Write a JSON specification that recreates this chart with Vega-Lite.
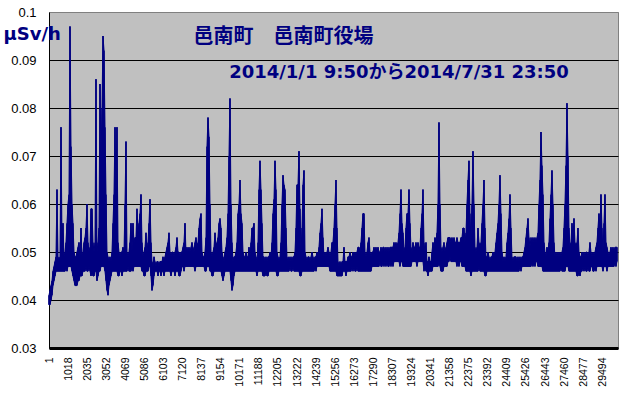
{
"$schema": "https://vega.github.io/schema/vega-lite/v6.json",
"width": 569, "height": 336,
"autosize": {"type": "none"},
"padding": {"left": 49, "top": 12, "right": 9, "bottom": 48},
"background": "white",
"config": {"view": {"fill": "#c0c0c0", "stroke": "#808080", "strokeWidth": 1}},
"data": {"values": [
{"i":1,"lo":0.039,"hi":0.041},{"i":54,"lo":0.039,"hi":0.042},{"i":108,"lo":0.040,"hi":0.043},{"i":161,"lo":0.041,"hi":0.044},{"i":214,"lo":0.043,"hi":0.046},{"i":268,"lo":0.044,"hi":0.047},{"i":321,"lo":0.045,"hi":0.048},{"i":374,"lo":0.046,"hi":0.049},{"i":427,"lo":0.046,"hi":0.063},{"i":481,"lo":0.046,"hi":0.049},
{"i":534,"lo":0.046,"hi":0.048},{"i":587,"lo":0.046,"hi":0.049},{"i":641,"lo":0.046,"hi":0.076},{"i":694,"lo":0.046,"hi":0.052},{"i":747,"lo":0.046,"hi":0.056},{"i":801,"lo":0.046,"hi":0.049},{"i":854,"lo":0.046,"hi":0.050},{"i":907,"lo":0.047,"hi":0.052},{"i":960,"lo":0.046,"hi":0.056},{"i":1014,"lo":0.047,"hi":0.060},
{"i":1067,"lo":0.047,"hi":0.062},{"i":1120,"lo":0.047,"hi":0.097},{"i":1174,"lo":0.047,"hi":0.072},{"i":1227,"lo":0.046,"hi":0.060},{"i":1280,"lo":0.045,"hi":0.056},{"i":1334,"lo":0.044,"hi":0.050},{"i":1387,"lo":0.043,"hi":0.049},{"i":1440,"lo":0.043,"hi":0.049},{"i":1493,"lo":0.043,"hi":0.050},{"i":1547,"lo":0.044,"hi":0.051},
{"i":1600,"lo":0.044,"hi":0.052},{"i":1653,"lo":0.045,"hi":0.049},{"i":1707,"lo":0.045,"hi":0.055},{"i":1760,"lo":0.045,"hi":0.049},{"i":1813,"lo":0.046,"hi":0.050},{"i":1867,"lo":0.046,"hi":0.052},{"i":1920,"lo":0.046,"hi":0.053},{"i":1973,"lo":0.047,"hi":0.055},{"i":2026,"lo":0.046,"hi":0.060},{"i":2080,"lo":0.046,"hi":0.052},
{"i":2133,"lo":0.047,"hi":0.050},{"i":2186,"lo":0.046,"hi":0.051},{"i":2240,"lo":0.045,"hi":0.059},{"i":2293,"lo":0.046,"hi":0.059},{"i":2346,"lo":0.045,"hi":0.052},{"i":2400,"lo":0.045,"hi":0.050},{"i":2453,"lo":0.046,"hi":0.052},{"i":2506,"lo":0.046,"hi":0.086},{"i":2559,"lo":0.044,"hi":0.050},{"i":2613,"lo":0.045,"hi":0.052},
{"i":2666,"lo":0.046,"hi":0.055},{"i":2719,"lo":0.046,"hi":0.085},{"i":2773,"lo":0.047,"hi":0.070},{"i":2826,"lo":0.047,"hi":0.080},{"i":2879,"lo":0.047,"hi":0.095},{"i":2933,"lo":0.047,"hi":0.092},{"i":2986,"lo":0.046,"hi":0.076},{"i":3039,"lo":0.044,"hi":0.062},{"i":3092,"lo":0.042,"hi":0.050},{"i":3146,"lo":0.041,"hi":0.049},
{"i":3199,"lo":0.043,"hi":0.048},{"i":3252,"lo":0.044,"hi":0.049},{"i":3306,"lo":0.045,"hi":0.048},{"i":3359,"lo":0.046,"hi":0.050},{"i":3412,"lo":0.046,"hi":0.056},{"i":3466,"lo":0.046,"hi":0.062},{"i":3519,"lo":0.046,"hi":0.076},{"i":3572,"lo":0.046,"hi":0.062},{"i":3625,"lo":0.046,"hi":0.076},{"i":3679,"lo":0.045,"hi":0.052},
{"i":3732,"lo":0.045,"hi":0.050},{"i":3785,"lo":0.046,"hi":0.049},{"i":3839,"lo":0.046,"hi":0.050},{"i":3892,"lo":0.045,"hi":0.050},{"i":3945,"lo":0.046,"hi":0.051},{"i":3999,"lo":0.046,"hi":0.050},{"i":4052,"lo":0.046,"hi":0.060},{"i":4105,"lo":0.046,"hi":0.073},{"i":4158,"lo":0.046,"hi":0.050},{"i":4212,"lo":0.047,"hi":0.049},
{"i":4265,"lo":0.046,"hi":0.050},{"i":4318,"lo":0.046,"hi":0.052},{"i":4372,"lo":0.046,"hi":0.056},{"i":4425,"lo":0.047,"hi":0.050},{"i":4478,"lo":0.046,"hi":0.056},{"i":4532,"lo":0.047,"hi":0.052},{"i":4585,"lo":0.047,"hi":0.053},{"i":4638,"lo":0.047,"hi":0.053},{"i":4691,"lo":0.047,"hi":0.059},{"i":4745,"lo":0.047,"hi":0.054},
{"i":4798,"lo":0.047,"hi":0.056},{"i":4851,"lo":0.047,"hi":0.058},{"i":4905,"lo":0.047,"hi":0.062},{"i":4958,"lo":0.046,"hi":0.052},{"i":5011,"lo":0.046,"hi":0.049},{"i":5065,"lo":0.045,"hi":0.050},{"i":5118,"lo":0.045,"hi":0.051},{"i":5171,"lo":0.046,"hi":0.054},{"i":5224,"lo":0.046,"hi":0.050},{"i":5278,"lo":0.046,"hi":0.052},
{"i":5331,"lo":0.047,"hi":0.056},{"i":5384,"lo":0.047,"hi":0.061},{"i":5438,"lo":0.045,"hi":0.052},{"i":5491,"lo":0.042,"hi":0.048},{"i":5544,"lo":0.043,"hi":0.047},{"i":5598,"lo":0.045,"hi":0.049},{"i":5651,"lo":0.046,"hi":0.048},{"i":5704,"lo":0.046,"hi":0.047},{"i":5757,"lo":0.046,"hi":0.048},{"i":5811,"lo":0.045,"hi":0.048},
{"i":5864,"lo":0.046,"hi":0.047},{"i":5917,"lo":0.046,"hi":0.048},{"i":5971,"lo":0.045,"hi":0.048},{"i":6024,"lo":0.046,"hi":0.048},{"i":6077,"lo":0.046,"hi":0.049},{"i":6131,"lo":0.045,"hi":0.048},{"i":6184,"lo":0.046,"hi":0.049},{"i":6237,"lo":0.046,"hi":0.050},{"i":6290,"lo":0.046,"hi":0.051},{"i":6344,"lo":0.046,"hi":0.052},
{"i":6397,"lo":0.046,"hi":0.054},{"i":6450,"lo":0.046,"hi":0.050},{"i":6504,"lo":0.045,"hi":0.049},{"i":6557,"lo":0.046,"hi":0.050},{"i":6610,"lo":0.046,"hi":0.050},{"i":6664,"lo":0.046,"hi":0.049},{"i":6717,"lo":0.045,"hi":0.050},{"i":6770,"lo":0.046,"hi":0.051},{"i":6823,"lo":0.046,"hi":0.053},{"i":6877,"lo":0.046,"hi":0.050},
{"i":6930,"lo":0.045,"hi":0.050},{"i":6983,"lo":0.045,"hi":0.049},{"i":7037,"lo":0.046,"hi":0.050},{"i":7090,"lo":0.047,"hi":0.050},{"i":7143,"lo":0.047,"hi":0.051},{"i":7197,"lo":0.046,"hi":0.052},{"i":7250,"lo":0.047,"hi":0.056},{"i":7303,"lo":0.047,"hi":0.050},{"i":7356,"lo":0.047,"hi":0.051},{"i":7410,"lo":0.047,"hi":0.050},
{"i":7463,"lo":0.047,"hi":0.051},{"i":7516,"lo":0.047,"hi":0.050},{"i":7570,"lo":0.047,"hi":0.051},{"i":7623,"lo":0.047,"hi":0.052},{"i":7676,"lo":0.047,"hi":0.051},{"i":7730,"lo":0.047,"hi":0.050},{"i":7783,"lo":0.046,"hi":0.052},{"i":7836,"lo":0.047,"hi":0.053},{"i":7889,"lo":0.047,"hi":0.051},{"i":7943,"lo":0.047,"hi":0.052},
{"i":7996,"lo":0.047,"hi":0.055},{"i":8049,"lo":0.047,"hi":0.057},{"i":8103,"lo":0.047,"hi":0.058},{"i":8156,"lo":0.047,"hi":0.050},{"i":8209,"lo":0.047,"hi":0.049},{"i":8263,"lo":0.047,"hi":0.049},{"i":8316,"lo":0.046,"hi":0.050},{"i":8369,"lo":0.046,"hi":0.053},{"i":8422,"lo":0.047,"hi":0.072},{"i":8476,"lo":0.047,"hi":0.078},
{"i":8529,"lo":0.047,"hi":0.074},{"i":8582,"lo":0.046,"hi":0.060},{"i":8636,"lo":0.046,"hi":0.050},{"i":8689,"lo":0.045,"hi":0.049},{"i":8742,"lo":0.045,"hi":0.050},{"i":8796,"lo":0.046,"hi":0.051},{"i":8849,"lo":0.046,"hi":0.054},{"i":8902,"lo":0.046,"hi":0.051},{"i":8955,"lo":0.046,"hi":0.052},{"i":9009,"lo":0.046,"hi":0.053},
{"i":9062,"lo":0.046,"hi":0.056},{"i":9115,"lo":0.046,"hi":0.057},{"i":9169,"lo":0.046,"hi":0.055},{"i":9222,"lo":0.045,"hi":0.050},{"i":9275,"lo":0.044,"hi":0.049},{"i":9329,"lo":0.045,"hi":0.048},{"i":9382,"lo":0.046,"hi":0.050},{"i":9435,"lo":0.046,"hi":0.051},{"i":9488,"lo":0.046,"hi":0.053},{"i":9542,"lo":0.046,"hi":0.058},
{"i":9595,"lo":0.046,"hi":0.070},{"i":9648,"lo":0.046,"hi":0.082},{"i":9702,"lo":0.044,"hi":0.060},{"i":9755,"lo":0.042,"hi":0.052},{"i":9808,"lo":0.043,"hi":0.048},{"i":9862,"lo":0.045,"hi":0.049},{"i":9915,"lo":0.046,"hi":0.049},{"i":9968,"lo":0.046,"hi":0.050},{"i":10021,"lo":0.046,"hi":0.052},{"i":10075,"lo":0.046,"hi":0.058},
{"i":10128,"lo":0.046,"hi":0.060},{"i":10181,"lo":0.046,"hi":0.065},{"i":10235,"lo":0.046,"hi":0.058},{"i":10288,"lo":0.046,"hi":0.056},{"i":10341,"lo":0.046,"hi":0.050},{"i":10395,"lo":0.046,"hi":0.049},{"i":10448,"lo":0.046,"hi":0.049},{"i":10501,"lo":0.046,"hi":0.050},{"i":10554,"lo":0.046,"hi":0.049},{"i":10608,"lo":0.046,"hi":0.049},
{"i":10661,"lo":0.046,"hi":0.051},{"i":10714,"lo":0.046,"hi":0.049},{"i":10768,"lo":0.046,"hi":0.052},{"i":10821,"lo":0.046,"hi":0.055},{"i":10874,"lo":0.046,"hi":0.055},{"i":10928,"lo":0.046,"hi":0.056},{"i":10981,"lo":0.046,"hi":0.050},{"i":11034,"lo":0.046,"hi":0.049},{"i":11087,"lo":0.045,"hi":0.048},{"i":11141,"lo":0.046,"hi":0.052},
{"i":11194,"lo":0.046,"hi":0.063},{"i":11247,"lo":0.046,"hi":0.069},{"i":11301,"lo":0.046,"hi":0.063},{"i":11354,"lo":0.046,"hi":0.056},{"i":11407,"lo":0.045,"hi":0.049},{"i":11461,"lo":0.045,"hi":0.049},{"i":11514,"lo":0.045,"hi":0.048},{"i":11567,"lo":0.046,"hi":0.049},{"i":11620,"lo":0.045,"hi":0.048},{"i":11674,"lo":0.045,"hi":0.049},
{"i":11727,"lo":0.046,"hi":0.049},{"i":11780,"lo":0.046,"hi":0.050},{"i":11834,"lo":0.046,"hi":0.049},{"i":11887,"lo":0.046,"hi":0.052},{"i":11940,"lo":0.046,"hi":0.058},{"i":11994,"lo":0.046,"hi":0.061},{"i":12047,"lo":0.046,"hi":0.069},{"i":12100,"lo":0.046,"hi":0.063},{"i":12153,"lo":0.045,"hi":0.050},{"i":12207,"lo":0.045,"hi":0.049},
{"i":12260,"lo":0.046,"hi":0.048},{"i":12313,"lo":0.046,"hi":0.049},{"i":12367,"lo":0.046,"hi":0.052},{"i":12420,"lo":0.046,"hi":0.060},{"i":12473,"lo":0.046,"hi":0.066},{"i":12527,"lo":0.046,"hi":0.064},{"i":12580,"lo":0.046,"hi":0.063},{"i":12633,"lo":0.046,"hi":0.055},{"i":12686,"lo":0.046,"hi":0.049},{"i":12740,"lo":0.046,"hi":0.048},
{"i":12793,"lo":0.046,"hi":0.049},{"i":12846,"lo":0.047,"hi":0.048},{"i":12900,"lo":0.046,"hi":0.049},{"i":12953,"lo":0.046,"hi":0.048},{"i":13006,"lo":0.047,"hi":0.049},{"i":13060,"lo":0.046,"hi":0.049},{"i":13113,"lo":0.046,"hi":0.050},{"i":13166,"lo":0.046,"hi":0.055},{"i":13219,"lo":0.046,"hi":0.064},{"i":13273,"lo":0.046,"hi":0.064},
{"i":13326,"lo":0.046,"hi":0.071},{"i":13379,"lo":0.045,"hi":0.059},{"i":13433,"lo":0.045,"hi":0.050},{"i":13486,"lo":0.046,"hi":0.055},{"i":13539,"lo":0.046,"hi":0.064},{"i":13593,"lo":0.046,"hi":0.067},{"i":13646,"lo":0.046,"hi":0.050},{"i":13699,"lo":0.046,"hi":0.049},{"i":13752,"lo":0.046,"hi":0.048},{"i":13806,"lo":0.046,"hi":0.049},
{"i":13859,"lo":0.046,"hi":0.049},{"i":13912,"lo":0.046,"hi":0.048},{"i":13966,"lo":0.046,"hi":0.049},{"i":14019,"lo":0.046,"hi":0.050},{"i":14072,"lo":0.046,"hi":0.049},{"i":14126,"lo":0.046,"hi":0.048},{"i":14179,"lo":0.047,"hi":0.049},{"i":14232,"lo":0.046,"hi":0.049},{"i":14285,"lo":0.047,"hi":0.050},{"i":14339,"lo":0.047,"hi":0.049},
{"i":14392,"lo":0.047,"hi":0.051},{"i":14445,"lo":0.047,"hi":0.054},{"i":14499,"lo":0.047,"hi":0.056},{"i":14552,"lo":0.047,"hi":0.059},{"i":14605,"lo":0.047,"hi":0.053},{"i":14659,"lo":0.047,"hi":0.049},{"i":14712,"lo":0.047,"hi":0.050},{"i":14765,"lo":0.047,"hi":0.049},{"i":14818,"lo":0.047,"hi":0.050},{"i":14872,"lo":0.047,"hi":0.051},
{"i":14925,"lo":0.047,"hi":0.050},{"i":14978,"lo":0.046,"hi":0.049},{"i":15032,"lo":0.046,"hi":0.050},{"i":15085,"lo":0.046,"hi":0.052},{"i":15138,"lo":0.046,"hi":0.052},{"i":15192,"lo":0.046,"hi":0.055},{"i":15245,"lo":0.046,"hi":0.060},{"i":15298,"lo":0.046,"hi":0.065},{"i":15351,"lo":0.045,"hi":0.055},{"i":15405,"lo":0.045,"hi":0.048},
{"i":15458,"lo":0.045,"hi":0.047},{"i":15511,"lo":0.045,"hi":0.048},{"i":15565,"lo":0.045,"hi":0.047},{"i":15618,"lo":0.045,"hi":0.048},{"i":15671,"lo":0.046,"hi":0.048},{"i":15725,"lo":0.046,"hi":0.051},{"i":15778,"lo":0.046,"hi":0.048},{"i":15831,"lo":0.045,"hi":0.048},{"i":15884,"lo":0.046,"hi":0.048},{"i":15938,"lo":0.046,"hi":0.049},
{"i":15991,"lo":0.046,"hi":0.049},{"i":16044,"lo":0.046,"hi":0.050},{"i":16098,"lo":0.046,"hi":0.049},{"i":16151,"lo":0.047,"hi":0.049},{"i":16204,"lo":0.046,"hi":0.050},{"i":16258,"lo":0.047,"hi":0.049},{"i":16311,"lo":0.046,"hi":0.050},{"i":16364,"lo":0.046,"hi":0.049},{"i":16417,"lo":0.047,"hi":0.050},{"i":16471,"lo":0.046,"hi":0.051},
{"i":16524,"lo":0.046,"hi":0.051},{"i":16577,"lo":0.046,"hi":0.050},{"i":16631,"lo":0.046,"hi":0.052},{"i":16684,"lo":0.046,"hi":0.055},{"i":16737,"lo":0.046,"hi":0.058},{"i":16791,"lo":0.046,"hi":0.058},{"i":16844,"lo":0.046,"hi":0.050},{"i":16897,"lo":0.046,"hi":0.049},{"i":16950,"lo":0.046,"hi":0.050},{"i":17004,"lo":0.046,"hi":0.052},
{"i":17057,"lo":0.046,"hi":0.053},{"i":17110,"lo":0.046,"hi":0.050},{"i":17164,"lo":0.046,"hi":0.049},{"i":17217,"lo":0.047,"hi":0.050},{"i":17270,"lo":0.047,"hi":0.050},{"i":17324,"lo":0.047,"hi":0.051},{"i":17377,"lo":0.047,"hi":0.050},{"i":17430,"lo":0.047,"hi":0.051},{"i":17483,"lo":0.047,"hi":0.050},{"i":17537,"lo":0.047,"hi":0.051},
{"i":17590,"lo":0.047,"hi":0.050},{"i":17643,"lo":0.048,"hi":0.050},{"i":17697,"lo":0.047,"hi":0.051},{"i":17750,"lo":0.047,"hi":0.050},{"i":17803,"lo":0.048,"hi":0.051},{"i":17857,"lo":0.047,"hi":0.051},{"i":17910,"lo":0.048,"hi":0.050},{"i":17963,"lo":0.047,"hi":0.051},{"i":18016,"lo":0.048,"hi":0.050},{"i":18070,"lo":0.047,"hi":0.051},
{"i":18123,"lo":0.047,"hi":0.050},{"i":18176,"lo":0.048,"hi":0.051},{"i":18230,"lo":0.047,"hi":0.051},{"i":18283,"lo":0.048,"hi":0.051},{"i":18336,"lo":0.047,"hi":0.051},{"i":18390,"lo":0.048,"hi":0.052},{"i":18443,"lo":0.048,"hi":0.051},{"i":18496,"lo":0.048,"hi":0.052},{"i":18549,"lo":0.048,"hi":0.051},{"i":18603,"lo":0.048,"hi":0.052},
{"i":18656,"lo":0.048,"hi":0.054},{"i":18709,"lo":0.047,"hi":0.058},{"i":18763,"lo":0.048,"hi":0.063},{"i":18816,"lo":0.048,"hi":0.056},{"i":18869,"lo":0.047,"hi":0.054},{"i":18923,"lo":0.047,"hi":0.050},{"i":18976,"lo":0.047,"hi":0.051},{"i":19029,"lo":0.047,"hi":0.055},{"i":19082,"lo":0.047,"hi":0.058},{"i":19136,"lo":0.047,"hi":0.058},
{"i":19189,"lo":0.047,"hi":0.063},{"i":19242,"lo":0.047,"hi":0.056},{"i":19296,"lo":0.047,"hi":0.051},{"i":19349,"lo":0.048,"hi":0.050},{"i":19402,"lo":0.048,"hi":0.052},{"i":19456,"lo":0.048,"hi":0.051},{"i":19509,"lo":0.048,"hi":0.051},{"i":19562,"lo":0.048,"hi":0.052},{"i":19615,"lo":0.047,"hi":0.051},{"i":19669,"lo":0.048,"hi":0.052},
{"i":19722,"lo":0.048,"hi":0.051},{"i":19775,"lo":0.048,"hi":0.051},{"i":19829,"lo":0.048,"hi":0.055},{"i":19882,"lo":0.048,"hi":0.058},{"i":19935,"lo":0.048,"hi":0.063},{"i":19989,"lo":0.046,"hi":0.052},{"i":20042,"lo":0.047,"hi":0.050},{"i":20095,"lo":0.046,"hi":0.052},{"i":20148,"lo":0.046,"hi":0.048},{"i":20202,"lo":0.045,"hi":0.048},
{"i":20255,"lo":0.046,"hi":0.049},{"i":20308,"lo":0.046,"hi":0.048},{"i":20362,"lo":0.046,"hi":0.048},{"i":20415,"lo":0.046,"hi":0.050},{"i":20468,"lo":0.047,"hi":0.052},{"i":20522,"lo":0.047,"hi":0.051},{"i":20575,"lo":0.047,"hi":0.053},{"i":20628,"lo":0.047,"hi":0.052},{"i":20681,"lo":0.047,"hi":0.054},{"i":20735,"lo":0.047,"hi":0.060},
{"i":20788,"lo":0.048,"hi":0.077},{"i":20841,"lo":0.047,"hi":0.060},{"i":20895,"lo":0.046,"hi":0.051},{"i":20948,"lo":0.046,"hi":0.050},{"i":21001,"lo":0.046,"hi":0.051},{"i":21055,"lo":0.047,"hi":0.052},{"i":21108,"lo":0.047,"hi":0.050},{"i":21161,"lo":0.047,"hi":0.051},{"i":21214,"lo":0.047,"hi":0.052},{"i":21268,"lo":0.048,"hi":0.053},
{"i":21321,"lo":0.048,"hi":0.053},{"i":21374,"lo":0.049,"hi":0.053},{"i":21428,"lo":0.048,"hi":0.052},{"i":21481,"lo":0.048,"hi":0.053},{"i":21534,"lo":0.048,"hi":0.052},{"i":21588,"lo":0.048,"hi":0.053},{"i":21641,"lo":0.048,"hi":0.052},{"i":21694,"lo":0.048,"hi":0.052},{"i":21747,"lo":0.047,"hi":0.053},{"i":21801,"lo":0.048,"hi":0.052},
{"i":21854,"lo":0.047,"hi":0.052},{"i":21907,"lo":0.048,"hi":0.052},{"i":21961,"lo":0.048,"hi":0.053},{"i":22014,"lo":0.047,"hi":0.053},{"i":22067,"lo":0.047,"hi":0.055},{"i":22121,"lo":0.047,"hi":0.055},{"i":22174,"lo":0.047,"hi":0.052},{"i":22227,"lo":0.046,"hi":0.054},{"i":22280,"lo":0.046,"hi":0.060},{"i":22334,"lo":0.046,"hi":0.065},
{"i":22387,"lo":0.046,"hi":0.069},{"i":22440,"lo":0.046,"hi":0.058},{"i":22494,"lo":0.045,"hi":0.052},{"i":22547,"lo":0.046,"hi":0.060},{"i":22600,"lo":0.046,"hi":0.071},{"i":22654,"lo":0.046,"hi":0.060},{"i":22707,"lo":0.046,"hi":0.051},{"i":22760,"lo":0.046,"hi":0.050},{"i":22813,"lo":0.046,"hi":0.051},{"i":22867,"lo":0.046,"hi":0.055},
{"i":22920,"lo":0.047,"hi":0.052},{"i":22973,"lo":0.046,"hi":0.051},{"i":23027,"lo":0.046,"hi":0.052},{"i":23080,"lo":0.046,"hi":0.056},{"i":23133,"lo":0.046,"hi":0.060},{"i":23187,"lo":0.046,"hi":0.065},{"i":23240,"lo":0.045,"hi":0.055},{"i":23293,"lo":0.045,"hi":0.049},{"i":23346,"lo":0.046,"hi":0.049},{"i":23400,"lo":0.046,"hi":0.050},
{"i":23453,"lo":0.046,"hi":0.049},{"i":23506,"lo":0.046,"hi":0.048},{"i":23560,"lo":0.046,"hi":0.049},{"i":23613,"lo":0.046,"hi":0.049},{"i":23666,"lo":0.046,"hi":0.050},{"i":23720,"lo":0.046,"hi":0.049},{"i":23773,"lo":0.046,"hi":0.050},{"i":23826,"lo":0.046,"hi":0.052},{"i":23879,"lo":0.046,"hi":0.054},{"i":23933,"lo":0.046,"hi":0.056},
{"i":23986,"lo":0.046,"hi":0.060},{"i":24039,"lo":0.046,"hi":0.066},{"i":24093,"lo":0.046,"hi":0.058},{"i":24146,"lo":0.046,"hi":0.050},{"i":24199,"lo":0.046,"hi":0.048},{"i":24253,"lo":0.046,"hi":0.049},{"i":24306,"lo":0.046,"hi":0.048},{"i":24359,"lo":0.046,"hi":0.049},{"i":24412,"lo":0.046,"hi":0.052},{"i":24466,"lo":0.046,"hi":0.054},
{"i":24519,"lo":0.046,"hi":0.057},{"i":24572,"lo":0.046,"hi":0.062},{"i":24626,"lo":0.046,"hi":0.055},{"i":24679,"lo":0.046,"hi":0.049},{"i":24732,"lo":0.046,"hi":0.048},{"i":24786,"lo":0.046,"hi":0.049},{"i":24839,"lo":0.046,"hi":0.049},{"i":24892,"lo":0.046,"hi":0.049},{"i":24945,"lo":0.046,"hi":0.048},{"i":24999,"lo":0.046,"hi":0.049},
{"i":25052,"lo":0.046,"hi":0.048},{"i":25105,"lo":0.047,"hi":0.049},{"i":25159,"lo":0.046,"hi":0.048},{"i":25212,"lo":0.047,"hi":0.049},{"i":25265,"lo":0.047,"hi":0.049},{"i":25319,"lo":0.047,"hi":0.050},{"i":25372,"lo":0.047,"hi":0.051},{"i":25425,"lo":0.047,"hi":0.053},{"i":25478,"lo":0.047,"hi":0.055},{"i":25532,"lo":0.047,"hi":0.057},
{"i":25585,"lo":0.047,"hi":0.053},{"i":25638,"lo":0.047,"hi":0.051},{"i":25692,"lo":0.047,"hi":0.053},{"i":25745,"lo":0.048,"hi":0.052},{"i":25798,"lo":0.047,"hi":0.053},{"i":25852,"lo":0.048,"hi":0.052},{"i":25905,"lo":0.047,"hi":0.053},{"i":25958,"lo":0.048,"hi":0.052},{"i":26011,"lo":0.048,"hi":0.053},{"i":26065,"lo":0.047,"hi":0.054},
{"i":26118,"lo":0.047,"hi":0.060},{"i":26171,"lo":0.047,"hi":0.065},{"i":26225,"lo":0.047,"hi":0.075},{"i":26278,"lo":0.047,"hi":0.068},{"i":26331,"lo":0.046,"hi":0.062},{"i":26385,"lo":0.046,"hi":0.052},{"i":26438,"lo":0.046,"hi":0.050},{"i":26491,"lo":0.046,"hi":0.049},{"i":26544,"lo":0.046,"hi":0.051},{"i":26598,"lo":0.046,"hi":0.050},
{"i":26651,"lo":0.046,"hi":0.052},{"i":26704,"lo":0.046,"hi":0.057},{"i":26758,"lo":0.046,"hi":0.062},{"i":26811,"lo":0.046,"hi":0.067},{"i":26864,"lo":0.046,"hi":0.060},{"i":26918,"lo":0.046,"hi":0.052},{"i":26971,"lo":0.046,"hi":0.049},{"i":27024,"lo":0.046,"hi":0.050},{"i":27077,"lo":0.046,"hi":0.049},{"i":27131,"lo":0.046,"hi":0.050},
{"i":27184,"lo":0.046,"hi":0.049},{"i":27237,"lo":0.046,"hi":0.050},{"i":27291,"lo":0.047,"hi":0.049},{"i":27344,"lo":0.046,"hi":0.050},{"i":27397,"lo":0.046,"hi":0.051},{"i":27451,"lo":0.046,"hi":0.055},{"i":27504,"lo":0.046,"hi":0.060},{"i":27557,"lo":0.047,"hi":0.068},{"i":27610,"lo":0.047,"hi":0.081},{"i":27664,"lo":0.047,"hi":0.070},
{"i":27717,"lo":0.046,"hi":0.055},{"i":27770,"lo":0.046,"hi":0.051},{"i":27824,"lo":0.046,"hi":0.052},{"i":27877,"lo":0.046,"hi":0.056},{"i":27930,"lo":0.046,"hi":0.053},{"i":27984,"lo":0.046,"hi":0.057},{"i":28037,"lo":0.046,"hi":0.052},{"i":28090,"lo":0.046,"hi":0.051},{"i":28143,"lo":0.045,"hi":0.052},{"i":28197,"lo":0.045,"hi":0.055},
{"i":28250,"lo":0.046,"hi":0.050},{"i":28303,"lo":0.045,"hi":0.049},{"i":28357,"lo":0.046,"hi":0.049},{"i":28410,"lo":0.046,"hi":0.050},{"i":28463,"lo":0.047,"hi":0.049},{"i":28517,"lo":0.046,"hi":0.050},{"i":28570,"lo":0.047,"hi":0.049},{"i":28623,"lo":0.046,"hi":0.050},{"i":28676,"lo":0.046,"hi":0.050},{"i":28730,"lo":0.047,"hi":0.049},
{"i":28783,"lo":0.046,"hi":0.050},{"i":28836,"lo":0.046,"hi":0.052},{"i":28890,"lo":0.047,"hi":0.050},{"i":28943,"lo":0.047,"hi":0.049},{"i":28996,"lo":0.046,"hi":0.050},{"i":29050,"lo":0.046,"hi":0.049},{"i":29103,"lo":0.047,"hi":0.050},{"i":29156,"lo":0.046,"hi":0.051},{"i":29209,"lo":0.047,"hi":0.052},{"i":29263,"lo":0.047,"hi":0.055},
{"i":29316,"lo":0.047,"hi":0.058},{"i":29369,"lo":0.047,"hi":0.055},{"i":29423,"lo":0.047,"hi":0.062},{"i":29476,"lo":0.047,"hi":0.055},{"i":29529,"lo":0.046,"hi":0.050},{"i":29583,"lo":0.047,"hi":0.056},{"i":29636,"lo":0.047,"hi":0.062},{"i":29689,"lo":0.047,"hi":0.052},{"i":29742,"lo":0.046,"hi":0.051},{"i":29796,"lo":0.047,"hi":0.050},
{"i":29849,"lo":0.047,"hi":0.049},{"i":29902,"lo":0.047,"hi":0.050},{"i":29956,"lo":0.047,"hi":0.051},{"i":30009,"lo":0.047,"hi":0.050},{"i":30062,"lo":0.047,"hi":0.051},{"i":30116,"lo":0.047,"hi":0.050},{"i":30169,"lo":0.048,"hi":0.051},{"i":30222,"lo":0.047,"hi":0.051},{"i":30275,"lo":0.048,"hi":0.051}
]},
"layer": [
{
"mark": {"type": "area", "color": "#000080", "stroke": "#000080", "strokeWidth": 1, "interpolate": "linear"},
"encoding": {
"x": {"field": "i", "type": "quantitative",
"scale": {"domain": [1, 30330], "nice": false, "zero": false},
"axis": {"values": [1,1018,2035,3052,4069,5086,6103,7120,8137,9154,10171,11188,12205,13222,14239,15256,16273,17290,18307,19324,20341,21358,22375,23392,24409,25426,26443,27460,28477,29494],
"tickCount": 60, "format": "d", "labelAngle": -90, "labelFont": "Liberation Sans", "labelFontSize": 10.5, "labelColor": "black",
"labelPadding": 9, "labelOverlap": false, "labelFlush": false, "ticks": false, "grid": false,
"domainColor": "black", "domainWidth": 3, "title": null}},
"y": {"field": "hi", "type": "quantitative",
"scale": {"domain": [0.03, 0.1], "nice": false, "zero": false},
"axis": {"values": [0.03,0.04,0.05,0.06,0.07,0.08,0.09,0.1], "tickCount": 20, "format": "~g",
"labelFont": "Liberation Sans", "labelFontSize": 13, "labelColor": "black", "labelPadding": 13,
"ticks": false, "grid": true, "gridColor": {"condition": {"test": "datum.value >= 0.1", "value": "#808080"}, "value": "black"}, "gridWidth": 1,
"domainColor": "black", "domainWidth": 1,
"title": "µSv/h", "titleAngle": 0, "titleAlign": "left", "titleBaseline": "middle", "titleX": -46, "titleY": 22,
"titleFont": "DejaVu Sans", "titleFontSize": 18, "titleFontWeight": "bold", "titleColor": "#000080"}},
"y2": {"field": "lo"}
}
},
{
"mark": {"type": "rule", "color": "#000080", "strokeWidth": 1.5},
"encoding": {"x": {"field": "i", "type": "quantitative"}, "y": {"field": "lo", "type": "quantitative"}, "y2": {"field": "hi"}}
},
{
"data": {"values": [{"label": "邑南町　邑南町役場"}]},
"mark": {"type": "text", "font": "Noto Sans CJK JP", "fontSize": 20, "fontWeight": "bold", "color": "#000080", "align": "center", "baseline": "middle"},
"encoding": {"x": {"datum": 12500, "type": "quantitative"}, "y": {"datum": 0.0948, "type": "quantitative"}, "text": {"field": "label"}}
},
{
"data": {"values": [{"label": "2014/1/1 9:50から2014/7/31 23:50"}]},
"mark": {"type": "text", "font": "DejaVu Sans, Noto Sans CJK JP", "fontSize": 18, "fontWeight": "bold", "color": "#000080", "align": "center", "baseline": "middle"},
"encoding": {"x": {"datum": 18656, "type": "quantitative"}, "y": {"datum": 0.0873, "type": "quantitative"}, "text": {"field": "label"}}
}
]
}
